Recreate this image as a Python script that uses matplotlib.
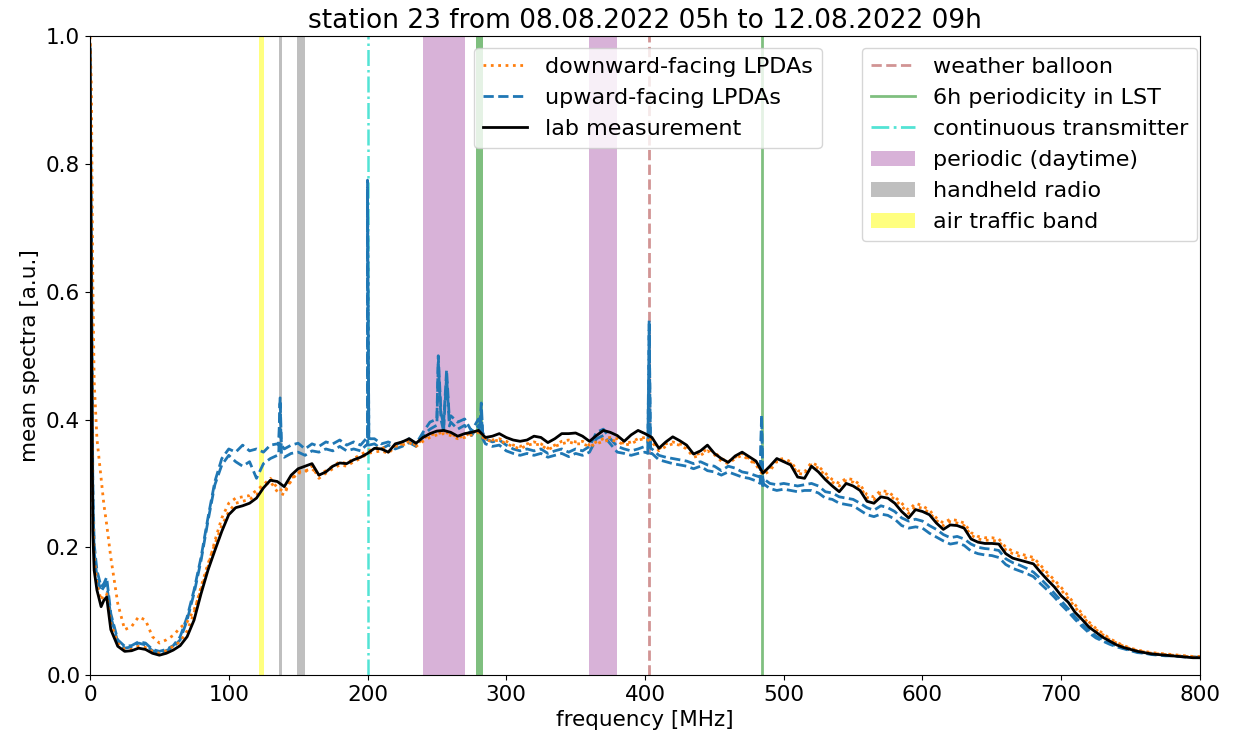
import numpy as np
import matplotlib
matplotlib.use("Agg")
import matplotlib.pyplot as plt
from matplotlib.lines import Line2D
from matplotlib.patches import Patch

# ---------------- data ----------------
freq = [0, 1, 2, 3, 5, 8, 10, 12, 15] + list(range(20, 801, 5))

lab = [0.98, 0.56, 0.225, 0.164, 0.133, 0.107, 0.117, 0.122, 0.071,
       0.045, 0.037, 0.038, 0.042, 0.040, 0.034, 0.031, 0.034, 0.039, 0.046,
       0.060, 0.086, 0.127, 0.164, 0.195, 0.225, 0.251, 0.262, 0.265, 0.269,
       0.277, 0.293, 0.305, 0.303, 0.295, 0.313, 0.323, 0.327, 0.331, 0.313,
       0.318, 0.327, 0.332, 0.331, 0.337, 0.341, 0.347, 0.355, 0.354, 0.349,
       0.362, 0.365, 0.370, 0.363, 0.372, 0.378, 0.382, 0.383, 0.380, 0.374,
       0.378, 0.380, 0.383, 0.372, 0.374, 0.378, 0.372, 0.368, 0.366, 0.368,
       0.374, 0.372, 0.364, 0.370, 0.378, 0.378, 0.379, 0.374, 0.366, 0.375,
       0.383, 0.380, 0.375, 0.366, 0.376, 0.383, 0.378, 0.372, 0.355, 0.365,
       0.373, 0.367, 0.360, 0.346, 0.351, 0.360, 0.347, 0.339, 0.333, 0.343,
       0.349, 0.342, 0.335, 0.316, 0.327, 0.339, 0.334, 0.329, 0.310, 0.308,
       0.327, 0.318, 0.306, 0.296, 0.287, 0.300, 0.296, 0.289, 0.272, 0.269,
       0.279, 0.277, 0.269, 0.256, 0.246, 0.259, 0.256, 0.251, 0.238, 0.228,
       0.235, 0.234, 0.230, 0.213, 0.208, 0.206, 0.206, 0.205, 0.190, 0.183,
       0.180, 0.177, 0.174, 0.161, 0.149, 0.138, 0.124, 0.114, 0.098, 0.087,
       0.075, 0.067, 0.059, 0.053, 0.047, 0.043, 0.040, 0.037, 0.035, 0.033,
       0.032, 0.031, 0.030, 0.029, 0.028, 0.027, 0.027]

down1 = [1.0, 0.92, 0.62, 0.46, 0.37, 0.308, 0.267, 0.236, 0.184,
         0.112, 0.071, 0.076, 0.091, 0.086, 0.060, 0.050, 0.055, 0.062, 0.074,
         0.083, 0.102, 0.133, 0.169, 0.210, 0.246, 0.269, 0.277, 0.279, 0.281,
         0.289, 0.298, 0.308, 0.293, 0.287, 0.304, 0.318, 0.320, 0.323, 0.313,
         0.320, 0.327, 0.334, 0.331, 0.339, 0.345, 0.351, 0.354, 0.358, 0.349,
         0.360, 0.362, 0.366, 0.360, 0.370, 0.376, 0.378, 0.380, 0.378, 0.372,
         0.374, 0.380, 0.382, 0.370, 0.368, 0.370, 0.366, 0.360, 0.358, 0.362,
         0.365, 0.362, 0.355, 0.360, 0.366, 0.368, 0.365, 0.366, 0.360, 0.365,
         0.370, 0.372, 0.370, 0.362, 0.365, 0.370, 0.372, 0.368, 0.354, 0.362,
         0.365, 0.362, 0.358, 0.345, 0.347, 0.354, 0.349, 0.339, 0.334, 0.341,
         0.347, 0.339, 0.331, 0.318, 0.325, 0.337, 0.339, 0.334, 0.320, 0.318,
         0.333, 0.327, 0.316, 0.306, 0.300, 0.308, 0.306, 0.298, 0.282, 0.279,
         0.289, 0.287, 0.279, 0.269, 0.258, 0.269, 0.265, 0.258, 0.246, 0.238,
         0.244, 0.242, 0.238, 0.223, 0.217, 0.215, 0.215, 0.213, 0.200, 0.194,
         0.190, 0.187, 0.184, 0.172, 0.160, 0.149, 0.137, 0.124, 0.110, 0.096,
         0.083, 0.073, 0.065, 0.057, 0.051, 0.046, 0.042, 0.039, 0.037, 0.035,
         0.034, 0.033, 0.032, 0.031, 0.030, 0.029, 0.029]

down2 = [0.99, 0.62, 0.256, 0.184, 0.143, 0.117, 0.127, 0.127, 0.081,
         0.050, 0.040, 0.040, 0.045, 0.043, 0.037, 0.034, 0.038, 0.045, 0.052,
         0.069, 0.097, 0.138, 0.174, 0.205, 0.234, 0.256, 0.269, 0.272, 0.275,
         0.282, 0.296, 0.303, 0.287, 0.282, 0.308, 0.316, 0.318, 0.327, 0.308,
         0.316, 0.323, 0.329, 0.327, 0.334, 0.339, 0.347, 0.349, 0.351, 0.347,
         0.358, 0.360, 0.364, 0.358, 0.366, 0.372, 0.376, 0.378, 0.375, 0.370,
         0.372, 0.376, 0.380, 0.368, 0.366, 0.368, 0.362, 0.358, 0.354, 0.360,
         0.362, 0.360, 0.353, 0.358, 0.362, 0.365, 0.362, 0.362, 0.358, 0.362,
         0.366, 0.368, 0.366, 0.360, 0.362, 0.368, 0.370, 0.365, 0.351, 0.358,
         0.362, 0.360, 0.354, 0.341, 0.344, 0.351, 0.345, 0.335, 0.331, 0.339,
         0.344, 0.337, 0.329, 0.313, 0.320, 0.334, 0.335, 0.331, 0.316, 0.314,
         0.329, 0.324, 0.312, 0.302, 0.296, 0.304, 0.302, 0.294, 0.278, 0.275,
         0.285, 0.283, 0.275, 0.264, 0.253, 0.264, 0.261, 0.254, 0.242, 0.234,
         0.240, 0.238, 0.234, 0.219, 0.213, 0.211, 0.211, 0.209, 0.196, 0.190,
         0.186, 0.183, 0.180, 0.168, 0.156, 0.145, 0.133, 0.120, 0.106, 0.093,
         0.080, 0.071, 0.063, 0.055, 0.050, 0.045, 0.041, 0.038, 0.036, 0.034,
         0.033, 0.032, 0.031, 0.030, 0.029, 0.028, 0.028]

up1 = [0.99, 0.72, 0.308, 0.205, 0.164, 0.138, 0.143, 0.153, 0.096,
       0.055, 0.045, 0.046, 0.052, 0.050, 0.040, 0.037, 0.040, 0.046, 0.060,
       0.091, 0.133, 0.184, 0.246, 0.303, 0.339, 0.354, 0.349, 0.360, 0.351,
       0.354, 0.349, 0.360, 0.362, 0.354, 0.360, 0.363, 0.354, 0.362, 0.358,
       0.365, 0.362, 0.368, 0.360, 0.365, 0.360, 0.368, 0.370, 0.362, 0.365,
       0.360, 0.365, 0.370, 0.362, 0.380, 0.396, 0.401, 0.391, 0.406, 0.396,
       0.401, 0.382, 0.401, 0.370, 0.365, 0.368, 0.360, 0.354, 0.351, 0.354,
       0.351, 0.354, 0.347, 0.351, 0.354, 0.349, 0.354, 0.351, 0.358, 0.380,
       0.385, 0.370, 0.358, 0.354, 0.351, 0.354, 0.358, 0.354, 0.344, 0.341,
       0.339, 0.337, 0.335, 0.331, 0.334, 0.329, 0.327, 0.320, 0.327, 0.324,
       0.318, 0.316, 0.312, 0.308, 0.300, 0.298, 0.300, 0.298, 0.296, 0.298,
       0.300, 0.296, 0.287, 0.285, 0.279, 0.277, 0.275, 0.269, 0.262, 0.258,
       0.265, 0.262, 0.256, 0.246, 0.241, 0.244, 0.241, 0.234, 0.228, 0.220,
       0.215, 0.217, 0.213, 0.205, 0.200, 0.198, 0.197, 0.195, 0.182, 0.176,
       0.172, 0.167, 0.161, 0.151, 0.140, 0.128, 0.116, 0.104, 0.091, 0.080,
       0.070, 0.061, 0.055, 0.050, 0.045, 0.042, 0.039, 0.036, 0.034, 0.033,
       0.032, 0.031, 0.030, 0.029, 0.029, 0.028, 0.028]

up2 = [0.98, 0.67, 0.287, 0.194, 0.153, 0.131, 0.138, 0.143, 0.091,
       0.052, 0.042, 0.044, 0.050, 0.047, 0.038, 0.035, 0.038, 0.044, 0.055,
       0.086, 0.128, 0.179, 0.241, 0.298, 0.329, 0.344, 0.334, 0.327, 0.334,
       0.308, 0.331, 0.339, 0.344, 0.341, 0.347, 0.349, 0.344, 0.351, 0.349,
       0.354, 0.351, 0.358, 0.351, 0.354, 0.351, 0.360, 0.362, 0.354, 0.360,
       0.354, 0.358, 0.364, 0.358, 0.375, 0.385, 0.391, 0.380, 0.396, 0.385,
       0.391, 0.375, 0.391, 0.362, 0.358, 0.360, 0.351, 0.347, 0.344, 0.347,
       0.344, 0.347, 0.341, 0.344, 0.347, 0.342, 0.347, 0.344, 0.349, 0.370,
       0.375, 0.362, 0.349, 0.347, 0.344, 0.347, 0.349, 0.347, 0.337, 0.334,
       0.331, 0.329, 0.327, 0.323, 0.327, 0.320, 0.318, 0.313, 0.318, 0.314,
       0.310, 0.308, 0.304, 0.300, 0.292, 0.289, 0.291, 0.289, 0.287, 0.289,
       0.289, 0.285, 0.277, 0.275, 0.269, 0.267, 0.265, 0.258, 0.251, 0.248,
       0.252, 0.250, 0.244, 0.234, 0.230, 0.232, 0.230, 0.222, 0.216, 0.210,
       0.205, 0.207, 0.203, 0.194, 0.190, 0.188, 0.187, 0.184, 0.173, 0.167,
       0.163, 0.159, 0.154, 0.143, 0.133, 0.122, 0.110, 0.099, 0.087, 0.076,
       0.066, 0.058, 0.053, 0.048, 0.044, 0.041, 0.038, 0.035, 0.034, 0.032,
       0.031, 0.030, 0.030, 0.029, 0.028, 0.028, 0.027]

# narrow spikes seen in the upward-facing spectra
spike_freq = [136, 137, 138, 199, 200, 201, 249, 251, 253, 255, 257, 259,
              281, 282, 283, 402, 403, 404, 483, 484, 485]
spike_up1 = [0.36, 0.434, 0.36, 0.37, 0.775, 0.37, 0.40, 0.50, 0.41, 0.40, 0.478, 0.40,
             0.39, 0.426, 0.38, 0.355, 0.556, 0.355, 0.31, 0.407, 0.30]
spike_up2 = [0.345, 0.425, 0.345, 0.36, 0.76, 0.36, 0.39, 0.49, 0.40, 0.39, 0.468, 0.39,
             0.38, 0.415, 0.37, 0.347, 0.54, 0.347, 0.30, 0.397, 0.292]

# RFI markers
weather_balloon = [403]
lst_periodicity_lines = [484]
lst_periodicity_band = (278.5, 283.5)
continuous_tx = [200]
periodic_daytime = [(240, 270), (360, 380)]
handheld_radio = [(136, 138.5), (149, 155)]
air_traffic = [(121.5, 125.5)]

title = "station 23 from 08.08.2022 05h to 12.08.2022 09h"


def merged(f, v, sf, sv):
    pts = sorted(list(zip(f, v)) + list(zip(sf, sv)))
    return [p[0] for p in pts], [p[1] for p in pts]


# ---------------- plot ----------------
FS = 15.5
LFS = 16
fig = plt.figure(figsize=(12.38, 7.46), dpi=100)
ax = fig.add_axes([0.0727, 0.0952, 0.8966, 0.8559])

for a, b in air_traffic:
    ax.axvspan(a, b, color="yellow", alpha=0.5, lw=0)
for a, b in handheld_radio:
    ax.axvspan(a, b, color="gray", alpha=0.5, lw=0)
for a, b in periodic_daytime:
    ax.axvspan(a, b, color="purple", alpha=0.3, lw=0)
ax.axvspan(*lst_periodicity_band, color="green", alpha=0.5, lw=0)
for x in lst_periodicity_lines:
    ax.axvline(x, color="green", alpha=0.5, lw=2)
for x in weather_balloon:
    ax.axvline(x, color="brown", alpha=0.5, lw=2, ls="--")
for x in continuous_tx:
    ax.axvline(x, color="turquoise", alpha=0.9, lw=1.8, ls="-.")

fu1, vu1 = merged(freq, up1, spike_freq, spike_up1)
fu2, vu2 = merged(freq, up2, spike_freq, spike_up2)
ax.plot(fu1, vu1, color="tab:blue", ls="--", lw=2)
ax.plot(fu2, vu2, color="tab:blue", ls="--", lw=2)
ax.plot(freq, down1, color="tab:orange", ls=":", lw=2)
ax.plot(freq, down2, color="tab:orange", ls=":", lw=2)
ax.plot(freq, lab, color="black", ls="-", lw=2)

ax.set_xlim(0, 800)
ax.set_ylim(0, 1)
ax.set_xlabel("frequency [MHz]", fontsize=FS)
ax.set_ylabel("mean spectra [a.u.]", fontsize=FS)
ax.set_title(title, fontsize=19)
ax.tick_params(labelsize=FS)

h1 = [Line2D([], [], color="tab:orange", ls=":", lw=2),
      Line2D([], [], color="tab:blue", ls="--", lw=2),
      Line2D([], [], color="black", ls="-", lw=2)]
l1 = ["downward-facing LPDAs", "upward-facing LPDAs", "lab measurement"]
leg1 = ax.legend(h1, l1, loc="upper left", bbox_to_anchor=(0.346, 0.982),
                 borderaxespad=0, fontsize=LFS, framealpha=0.8)
ax.add_artist(leg1)

h2 = [Line2D([], [], color="brown", alpha=0.5, ls="--", lw=2),
      Line2D([], [], color="green", alpha=0.5, ls="-", lw=2),
      Line2D([], [], color="turquoise", alpha=0.9, ls="-.", lw=2),
      Patch(color="purple", alpha=0.3, lw=0),
      Patch(color="gray", alpha=0.5, lw=0),
      Patch(color="yellow", alpha=0.5, lw=0)]
l2 = ["weather balloon", "6h periodicity in LST", "continuous transmitter",
      "periodic (daytime)", "handheld radio", "air traffic band"]
ax.legend(h2, l2, loc="upper left", bbox_to_anchor=(0.6955, 0.982),
          borderaxespad=0, fontsize=LFS, framealpha=0.8)

fig.savefig("out.png", dpi=100)
